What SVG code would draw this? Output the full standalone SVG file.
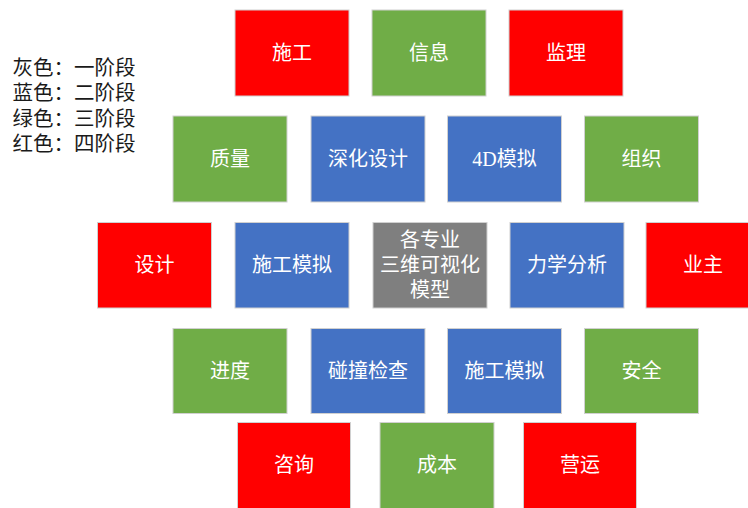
<svg xmlns="http://www.w3.org/2000/svg" width="748" height="508" viewBox="0 0 748 508">
<style>
  .box{stroke:#D0D0D0;stroke-width:1}
  .r{fill:#FF0000}
  .g{fill:#70AD47}
  .b{fill:#4472C4}
  .k{fill:#7F7F7F}
  .t{fill:#FFFFFF;font-family:"Liberation Serif","Noto Sans CJK SC",serif;font-size:20px;text-anchor:middle;dominant-baseline:central}
  .lg{fill:#1A1A1A;font-family:"Liberation Serif","Noto Sans CJK SC",serif;font-size:20.5px;dominant-baseline:central}
</style>
<rect width="748" height="508" fill="#FFFFFF"/>
<g id="legend">
  <text class="lg" x="12.5" y="67.5">灰色：一阶段</text>
  <text class="lg" x="12.5" y="93">蓝色：二阶段</text>
  <text class="lg" x="12.5" y="118.5">绿色：三阶段</text>
  <text class="lg" x="12.5" y="144">红色：四阶段</text>
</g>
<g id="connectors"></g>
<!-- row 1 -->
<g id="n-shigong"><rect class="box r" x="235" y="10" width="114" height="86"/><text class="t" x="292" y="53">施工</text></g>
<g id="n-xinxi"><rect class="box g" x="372" y="10" width="114" height="86"/><text class="t" x="429" y="53">信息</text></g>
<g id="n-jianli"><rect class="box r" x="509" y="10" width="114" height="86"/><text class="t" x="566" y="53">监理</text></g>
<!-- row 2 -->
<g id="n-zhiliang"><rect class="box g" x="173" y="116" width="114" height="86"/><text class="t" x="230" y="159">质量</text></g>
<g id="n-shenhua"><rect class="box b" x="311" y="116" width="114" height="86"/><text class="t" x="368" y="159">深化设计</text></g>
<g id="n-4d"><rect class="box b" x="447.5" y="116" width="114" height="86"/><text class="t" x="504.5" y="159">4D模拟</text></g>
<g id="n-zuzhi"><rect class="box g" x="584.5" y="116" width="114" height="86"/><text class="t" x="641.5" y="159">组织</text></g>
<!-- row 3 -->
<g id="n-sheji"><rect class="box r" x="97.5" y="222.5" width="114" height="85.5"/><text class="t" x="154.5" y="265">设计</text></g>
<g id="n-shigongmoni1"><rect class="box b" x="235" y="222.5" width="114" height="85.5"/><text class="t" x="292" y="265">施工模拟</text></g>
<g id="n-center"><rect class="box k" x="373" y="222.5" width="114" height="85.5"/>
  <text class="t" x="430" y="240">各专业</text>
  <text class="t" x="430" y="265">三维可视化</text>
  <text class="t" x="430" y="290">模型</text>
</g>
<g id="n-lixue"><rect class="box b" x="510" y="222.5" width="114" height="85.5"/><text class="t" x="567" y="265">力学分析</text></g>
<g id="n-yezhu"><rect class="box r" x="646" y="222.5" width="114" height="85.5"/><text class="t" x="703" y="265">业主</text></g>
<!-- row 4 -->
<g id="n-jindu"><rect class="box g" x="173" y="328.5" width="114" height="85"/><text class="t" x="230" y="371">进度</text></g>
<g id="n-pengzhuang"><rect class="box b" x="311" y="328.5" width="114" height="85"/><text class="t" x="368" y="371">碰撞检查</text></g>
<g id="n-shigongmoni2"><rect class="box b" x="447.5" y="328.5" width="114" height="85"/><text class="t" x="504.5" y="371">施工模拟</text></g>
<g id="n-anquan"><rect class="box g" x="584.5" y="328.5" width="114" height="85"/><text class="t" x="641.5" y="371">安全</text></g>
<!-- row 5 -->
<g id="n-zixun"><rect class="box r" x="237.5" y="422.5" width="113" height="86"/><text class="t" x="294" y="465">咨询</text></g>
<g id="n-chengben"><rect class="box g" x="380" y="422.5" width="114" height="86"/><text class="t" x="437" y="465">成本</text></g>
<g id="n-yingyun"><rect class="box r" x="523.5" y="422.5" width="113" height="86"/><text class="t" x="580" y="465">营运</text></g>
</svg>
